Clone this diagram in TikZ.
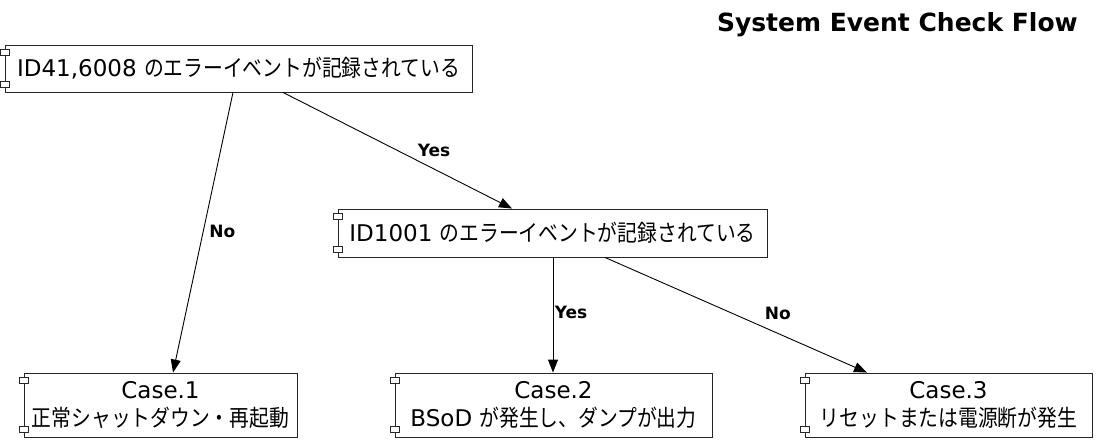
\documentclass[tikz,border=0pt]{standalone}
\usepackage{fontspec}
\setmainfont{DejaVu Sans}
\newfontfamily\jp[FakeStretch=0.86]{Noto Sans CJK JP}
\usetikzlibrary{arrows.meta,calc}
\begin{document}
\begin{tikzpicture}[x=1pt,y=-1pt,
  box/.style={draw=black!85, fill=white, line width=0.9pt, inner sep=0pt,
    font=\fontsize{23}{28}\selectfont, align=center},
  arr/.style={line width=0.9pt, -{Triangle[length=13pt,width=10pt]}},
  lbl/.style={font=\fontsize{17}{19}\selectfont\bfseries, inner sep=0pt},
  tab/.style={draw=black!85, fill=white, line width=0.8pt}]
\useasboundingbox (0,0) rectangle (1097,443);

\node[font=\fontsize{25}{30}\selectfont\bfseries, anchor=base east, inner sep=0pt] (title) at (1078,32) {System Event Check Flow};

\node[box, minimum width=467pt, minimum height=47pt] (A) at (238.5,68.5) {ID41,6008 {\jp のエラーイベントが記録されている}};
\node[box, minimum width=429pt, minimum height=48pt] (B) at (552.5,233) {ID1001 {\jp のエラーイベントが記録されている}};
\node[box, minimum width=273pt, minimum height=64pt] (C1) at (160.5,405) {Case.1\\{\jp 正常シャットダウン・再起動}};
\node[box, minimum width=317pt, minimum height=64pt] (C2) at (553.5,405) {Case.2\\BSoD {\jp が発生し、ダンプが出力}};
\node[box, minimum width=287pt, minimum height=64pt] (C3) at (948.5,405) {Case.3\\{\jp リセットまたは電源断が発生}};

\foreach \n in {A,B,C1,C2,C3}{
  \draw[tab] ($(\n.north west)+(-4.5,5)$) rectangle ++(9,6);
  \draw[tab] ($(\n.south west)+(-4.5,-11)$) rectangle ++(9,6);
}

\draw[arr] ([xshift=-5.5pt]A.south) -- node[lbl, pos=0.495, xshift=19pt] (l1) {No} ([xshift=12.5pt]C1.north);
\draw[arr] ([xshift=44.5pt]A.south) -- node[lbl, pos=0.66, yshift=19pt] (l2) {Yes} ([xshift=-40.5pt]B.north);
\draw[arr] ([xshift=0.5pt]B.south) -- node[lbl, pos=0.48, xshift=18pt] (l3) {Yes} ([xshift=-0.5pt]C2.north);
\draw[arr] ([xshift=52.5pt]B.south) -- node[lbl, pos=0.66, yshift=20pt] (l4) {No} ([xshift=-81.5pt]C3.north);
\end{tikzpicture}
\end{document}
